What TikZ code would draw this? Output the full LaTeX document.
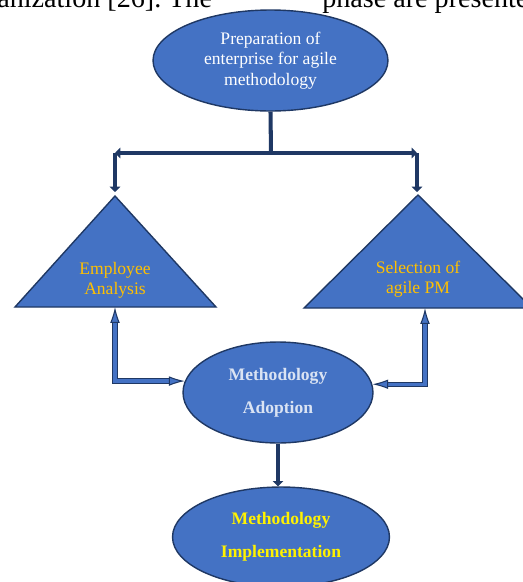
\documentclass[tikz,border=0pt]{standalone}
\usepackage{fontspec}
\setmainfont{Liberation Serif}
\usetikzlibrary{shapes.geometric,arrows.meta}
\definecolor{boxblue}{HTML}{4472C4}
\definecolor{navy}{HTML}{1F3864}
\definecolor{gold}{HTML}{FFC000}
\definecolor{lav}{HTML}{DAE3F3}
\tikzset{
  oval/.style={ellipse,draw=navy,line width=0.8pt,fill=boxblue,inner sep=0pt,align=center},
  tri/.style={draw=navy,line width=0.8pt,fill=boxblue},
  tritext/.style={align=center,text=gold,font=\fontsize{10}{11.4}\selectfont},
  conn/.style={draw=navy,line width=2.3pt},
  tip/.style={-{Triangle[length=3pt,width=6pt]}},
  dbl/.style={draw=navy,line width=0.6pt,double=boxblue,double distance=1.8pt,
    {Latex[length=9pt,width=5.5pt,fill=boxblue]}-{Latex[length=9pt,width=5.5pt,fill=boxblue]}}
}
\begin{document}
\begin{tikzpicture}[x=0.02cm,y=-0.02cm]
\useasboundingbox (0,0) rectangle (523,582);
\node[anchor=base west,inner sep=0pt,font=\fontsize{16}{18}\selectfont] (t1) at (-3,7) {anization [26].~The};
\node[anchor=base west,inner sep=0pt,font=\fontsize{16}{18}\selectfont] (t2) at (322,7) {phase are presented};
\draw[tri] (115,196) -- (216,307) -- (15,307) -- cycle;
\draw[tri] (418,195) -- (532,308) -- (304,308) -- cycle;
\node[oval,minimum width=4.7cm,minimum height=2.02cm,text=white,font=\fontsize{10}{11.6}\selectfont] (1) at (270.5,60.5) {Preparation of\\enterprise for agile\\methodology};
\node[tritext] (2) at (115,280) {Employee\\Analysis};
\node[tritext] (3) at (418,279) {Selection of\\agile PM};
\node[oval,minimum width=3.8cm,minimum height=2.02cm,text=lav,font=\fontsize{10}{18.8}\selectfont\bfseries] (4) at (278,392.5) {Methodology\\Adoption};
\node[oval,minimum width=4.34cm,minimum height=2cm,text=yellow,font=\fontsize{10}{18.8}\selectfont\bfseries] (5) at (281,537) {Methodology\\Implementation};
\coordinate (s) at (271,153);
\coordinate (l) at (115,153);
\coordinate (r) at (417,153);
\coordinate (2a) at (115,192);
\coordinate (3a) at (417,192);
\coordinate (2b) at (115,307);
\coordinate (3b) at (425,308);
\draw[conn] (1.south) -- (s);
\draw[conn,tip] (s) -- (l);
\draw[conn,tip] (s) -- (r);
\draw[conn,tip] (l) -- (2a);
\draw[conn,tip] (r) -- (3a);
\draw[conn,tip] (4.south) -- (4.south |- 5.north);
\draw[dbl] (4.173) -| (2b);
\draw[dbl] (4.5) -| (3b);
\end{tikzpicture}
\end{document}
